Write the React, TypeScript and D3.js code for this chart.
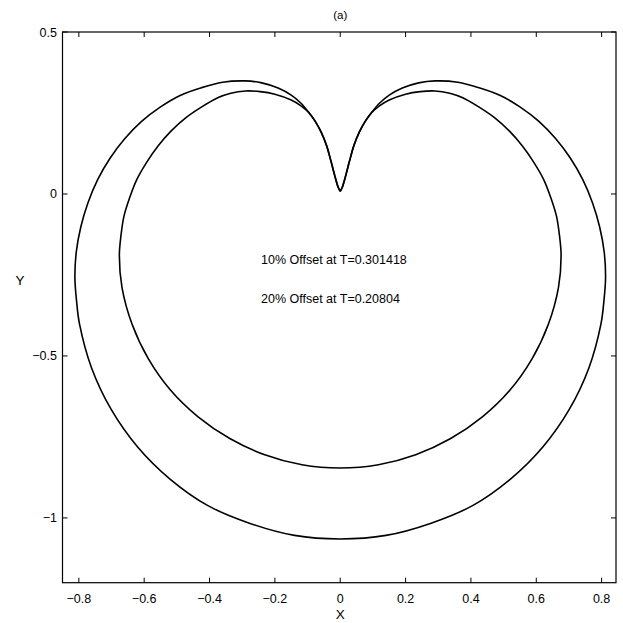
import React from "react";
import * as d3 from "d3";

// 10% offset curve (outer), traced from the cusp clockwise and back
const outerX = [0, 0.006, 0.015, 0.028, 0.042, 0.058, 0.075, 0.095, 0.12, 0.15, 0.19, 0.24, 0.29, 0.36, 0.425, 0.49, 0.551, 0.608, 0.659, 0.704, 0.742, 0.772, 0.794, 0.808, 0.812, 0.807, 0.798, 0.761, 0.701, 0.62, 0.521, 0.405, 0.276, 0.14, 0,
  -0.14, -0.276, -0.405, -0.521, -0.62, -0.701, -0.761, -0.798, -0.807, -0.812, -0.808, -0.794, -0.772, -0.742, -0.704, -0.659, -0.608, -0.551, -0.49, -0.425, -0.36, -0.29, -0.24, -0.19, -0.15, -0.12, -0.095, -0.075, -0.058, -0.042, -0.028, -0.015, -0.006, 0];
const outerY = [0.008, 0.02, 0.05, 0.1, 0.15, 0.19, 0.222, 0.25, 0.28, 0.305, 0.327, 0.343, 0.349, 0.345, 0.328, 0.304, 0.268, 0.224, 0.171, 0.111, 0.045, -0.027, -0.102, -0.18, -0.26, -0.33, -0.401, -0.537, -0.665, -0.781, -0.88, -0.962, -1.017, -1.054, -1.065,
  -1.054, -1.017, -0.962, -0.88, -0.781, -0.665, -0.537, -0.401, -0.33, -0.26, -0.18, -0.102, -0.027, 0.045, 0.111, 0.171, 0.224, 0.268, 0.304, 0.328, 0.345, 0.349, 0.343, 0.327, 0.305, 0.28, 0.25, 0.222, 0.19, 0.15, 0.1, 0.05, 0.02, 0.008];

// 20% offset curve (inner), sharing the cusp with the outer one
const innerX = [0, 0.006, 0.015, 0.028, 0.042, 0.058, 0.075, 0.095, 0.12, 0.15, 0.2, 0.245, 0.29, 0.335, 0.375, 0.425, 0.473, 0.518, 0.557, 0.591, 0.622, 0.644, 0.662, 0.671, 0.676, 0.668, 0.637, 0.587, 0.519, 0.435, 0.338, 0.231, 0.117, 0,
  -0.117, -0.231, -0.338, -0.435, -0.519, -0.587, -0.637, -0.668, -0.676, -0.671, -0.662, -0.644, -0.622, -0.591, -0.557, -0.518, -0.473, -0.425, -0.375, -0.335, -0.29, -0.245, -0.2, -0.15, -0.12, -0.095, -0.075, -0.058, -0.042, -0.028, -0.015, -0.006, 0];
const innerY = [0.008, 0.02, 0.05, 0.1, 0.15, 0.19, 0.222, 0.25, 0.272, 0.29, 0.308, 0.316, 0.318, 0.311, 0.297, 0.268, 0.235, 0.194, 0.149, 0.1, 0.046, -0.01, -0.069, -0.128, -0.19, -0.288, -0.402, -0.509, -0.606, -0.688, -0.755, -0.805, -0.836, -0.846,
  -0.836, -0.805, -0.755, -0.688, -0.606, -0.509, -0.402, -0.288, -0.19, -0.128, -0.069, -0.01, 0.046, 0.1, 0.149, 0.194, 0.235, 0.268, 0.297, 0.311, 0.318, 0.316, 0.308, 0.29, 0.272, 0.25, 0.222, 0.19, 0.15, 0.1, 0.05, 0.02, 0.008];

const xTicks = [-0.8, -0.6, -0.4, -0.2, 0, 0.2, 0.4, 0.6, 0.8];
const yTicks = [0.5, 0, -0.5, -1];
const notes = ["10% Offset at T=0.301418", "20% Offset at T=0.20804"];

const W = 623;
const H = 623;
const left = 62.5;
const right = 616;
const top = 32;
const bottom = 582.7;
const font = "'Liberation Sans', Arial, Helvetica, sans-serif";

const fmt = (t: number) => (t === 0 ? "0" : String(t).replace("-", "\u2212"));

export default function App() {
  const x = d3.scaleLinear().domain([-0.85, 0.844]).range([left, right]);
  const y = d3.scaleLinear().domain([-1.2, 0.5]).range([bottom, top]);

  const makePath = (xs: number[], ys: number[]) =>
    d3
      .line<[number, number]>()
      .x((d) => x(d[0]))
      .y((d) => y(d[1]))
      .curve(d3.curveCatmullRom.alpha(0.5))(xs.map((v, i) => [v, ys[i]] as [number, number])) || "";

  const tickLen = 5;

  return (
    <svg
      width={W}
      height={H}
      style={{ position: "absolute", left: 0, top: 0, background: "#fff" }}
      fontFamily={font}
    >
      <rect x={0} y={0} width={W} height={H} fill="#fff" />
      <rect x={left} y={top} width={right - left} height={bottom - top} fill="none" stroke="#000" strokeWidth={1.2} />

      {xTicks.map((t) => (
        <g key={"xt" + t}>
          <line x1={x(t)} x2={x(t)} y1={bottom} y2={bottom - tickLen} stroke="#000" strokeWidth={1} />
          <line x1={x(t)} x2={x(t)} y1={top} y2={top + tickLen} stroke="#000" strokeWidth={1} />
          <text x={x(t)} y={603} textAnchor="middle" fontSize={12.5}>
            {fmt(t)}
          </text>
        </g>
      ))}
      {yTicks.map((t) => (
        <g key={"yt" + t}>
          <line x1={left} x2={left + tickLen} y1={y(t)} y2={y(t)} stroke="#000" strokeWidth={1} />
          <line x1={right} x2={right - tickLen} y1={y(t)} y2={y(t)} stroke="#000" strokeWidth={1} />
          <text x={57} y={y(t) + 4.5} textAnchor="end" fontSize={12.5}>
            {fmt(t)}
          </text>
        </g>
      ))}

      <text x={x(0)} y={619} textAnchor="middle" fontSize={13.5}>X</text>
      <text x={20} y={285} textAnchor="middle" fontSize={13.5}>Y</text>
      <text x={x(0)} y={19} textAnchor="middle" fontSize={11.5}>(a)</text>

      <path d={makePath(outerX, outerY)} fill="none" stroke="#000" strokeWidth={1.6} strokeLinejoin="round" />
      <path d={makePath(innerX, innerY)} fill="none" stroke="#000" strokeWidth={1.6} strokeLinejoin="round" />

      {notes.map((n, i) => (
        <text key={n} x={261} y={264 + i * 39} fontSize={12.5}>
          {n}
        </text>
      ))}
    </svg>
  );
}
